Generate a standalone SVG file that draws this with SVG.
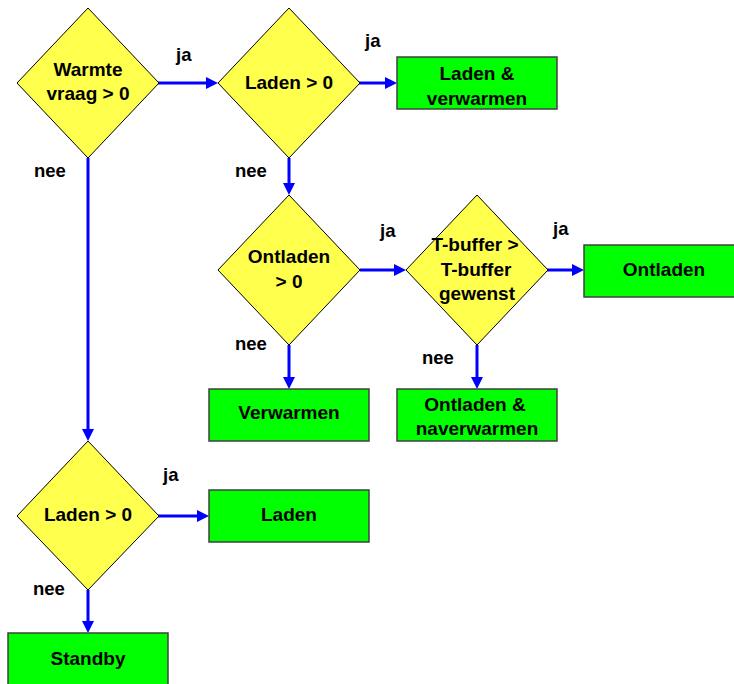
<svg xmlns="http://www.w3.org/2000/svg" width="734" height="684" viewBox="0 0 734 684">
  <style>
    .dec { fill: #ffff4d; stroke: #000; stroke-width: 1; }
    .act { fill: #00ff00; stroke: #404040; stroke-width: 1.5; }
    .t { font-family: "Liberation Sans", Arial, sans-serif; font-weight: bold; font-size: 19px; fill: #000; text-anchor: middle; }
    .lbl { font-family: "Liberation Sans", Arial, sans-serif; font-weight: bold; font-size: 18.5px; fill: #000; }
    .conn { fill: none; stroke: #0000ff; stroke-width: 3; }
  </style>
  <defs>
    <marker id="arrow" viewBox="0 0 12 12" refX="2" refY="6" markerWidth="12" markerHeight="12" markerUnits="userSpaceOnUse" orient="auto">
      <path d="M0,0 L12,6 L0,12 z" fill="#0000ff"/>
    </marker>
  </defs>

  <rect width="734" height="684" fill="#fff"/>

  <!-- connectors -->
  <g id="connectors">
    <path class="conn" d="M158,83 H208" marker-end="url(#arrow)"/>
    <path class="conn" d="M359,83 H387" marker-end="url(#arrow)"/>
    <path class="conn" d="M289,158 V185" marker-end="url(#arrow)"/>
    <path class="conn" d="M360,270 H396" marker-end="url(#arrow)"/>
    <path class="conn" d="M547,270 H574" marker-end="url(#arrow)"/>
    <path class="conn" d="M289,345 V379" marker-end="url(#arrow)"/>
    <path class="conn" d="M477,345 V379" marker-end="url(#arrow)"/>
    <path class="conn" d="M88,158 V431" marker-end="url(#arrow)"/>
    <path class="conn" d="M158,516 H199" marker-end="url(#arrow)"/>
    <path class="conn" d="M88,590 V623" marker-end="url(#arrow)"/>
  </g>

  <!-- branch labels -->
  <g id="labels">
    <text class="lbl" x="176" y="61">ja</text>
    <text class="lbl" x="365" y="47">ja</text>
    <text class="lbl" x="34" y="177">nee</text>
    <text class="lbl" x="235" y="177">nee</text>
    <text class="lbl" x="380" y="237">ja</text>
    <text class="lbl" x="553" y="235">ja</text>
    <text class="lbl" x="235" y="350">nee</text>
    <text class="lbl" x="422" y="364">nee</text>
    <text class="lbl" x="163" y="481">ja</text>
    <text class="lbl" x="33" y="595">nee</text>
  </g>

  <!-- decisions -->
  <g id="warmtevraag">
    <polygon class="dec" points="88,8 159,83 88,158 17,83"/>
    <text class="t" x="88" y="76">Warmte</text>
    <text class="t" x="88" y="100">vraag &gt; 0</text>
  </g>
  <g id="laden1">
    <polygon class="dec" points="289,8 360,83 289,158 218,83"/>
    <text class="t" x="289" y="89">Laden &gt; 0</text>
  </g>
  <g id="ontladen-check">
    <polygon class="dec" points="289,195 360,270 289,345 218,270"/>
    <text class="t" x="289" y="263">Ontladen</text>
    <text class="t" x="289" y="288">&gt; 0</text>
  </g>
  <g id="tbuffer">
    <polygon class="dec" points="477,195 548,270 477,345 406,270"/>
    <text class="t" x="475" y="251">T-buffer &gt;</text>
    <text class="t" x="476" y="276">T-buffer</text>
    <text class="t" x="477" y="300">gewenst</text>
  </g>
  <g id="laden2">
    <polygon class="dec" points="88,441 159,516 88,590 17,516"/>
    <text class="t" x="88" y="521">Laden &gt; 0</text>
  </g>

  <!-- actions -->
  <g id="laden-verwarmen">
    <rect class="act" x="397" y="57" width="160" height="52"/>
    <text class="t" x="477" y="80">Laden &amp;</text>
    <text class="t" x="477" y="105">verwarmen</text>
  </g>
  <g id="ontladen">
    <rect class="act" x="584" y="245" width="160" height="52"/>
    <text class="t" x="664" y="276">Ontladen</text>
  </g>
  <g id="verwarmen">
    <rect class="act" x="209" y="389" width="160" height="52"/>
    <text class="t" x="289" y="419">Verwarmen</text>
  </g>
  <g id="ontladen-naverwarmen">
    <rect class="act" x="397" y="389" width="160" height="52"/>
    <text class="t" x="475" y="411">Ontladen &amp;</text>
    <text class="t" x="477" y="435">naverwarmen</text>
  </g>
  <g id="laden">
    <rect class="act" x="209" y="490" width="160" height="52"/>
    <text class="t" x="289" y="521">Laden</text>
  </g>
  <g id="standby">
    <rect class="act" x="8" y="633" width="160" height="52"/>
    <text class="t" x="88" y="665">Standby</text>
  </g>
</svg>
